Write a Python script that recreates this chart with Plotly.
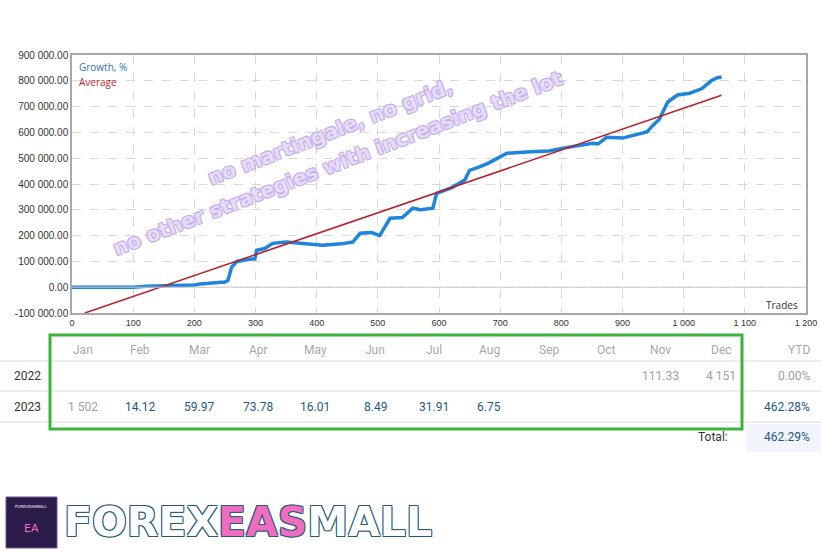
import plotly.graph_objects as go

# growth curve (trade number, growth %)
trades = [0, 100, 122, 150, 200, 209, 250, 255, 261, 270, 280, 290, 299, 302, 315, 328, 350, 380,
          410, 440, 459, 471, 490, 503, 520, 540, 557, 570, 590, 596, 610, 620, 642, 650, 665, 680,
          700, 711, 750, 780, 803, 830, 851, 860, 874, 900, 920, 940, 950, 960, 974, 990, 1010, 1030, 1045, 1055, 1062]
growth = [0, 0, 4000, 5000, 9000, 12000, 20000, 27000, 78000, 100000, 105000, 108000, 110000, 143000, 150000, 170000, 175000, 170000,
          163000, 168000, 175000, 209000, 212000, 200000, 267000, 270000, 306000, 300000, 306000, 364000, 375000, 385000, 415000, 453000, 465000, 480000,
          505000, 519000, 525000, 528000, 539000, 548000, 558000, 555000, 581000, 578000, 590000, 602000, 628000, 650000, 718000, 745000, 752000, 770000, 800000, 812000, 815000]
avg_x = [21, 1062]
avg_y = [-100000, 744000]

y_ticks = [-100000, 0, 100000, 200000, 300000, 400000, 500000, 600000, 700000, 800000, 900000]
y_labels = ["-100 000.00", "0.00", "100 000.00", "200 000.00", "300 000.00", "400 000.00",
            "500 000.00", "600 000.00", "700 000.00", "800 000.00", "900 000.00"]
x_ticks = [0, 100, 200, 300, 400, 500, 600, 700, 800, 900, 1000, 1100, 1200]
x_labels = ["0", "100", "200", "300", "400", "500", "600", "700", "800", "900", "1 000", "1 100", "1 200"]

months = ["Jan", "Feb", "Mar", "Apr", "May", "Jun", "Jul", "Aug", "Sep", "Oct", "Nov", "Dec"]
years = ["2022", "2023"]
vals_2022 = ["", "", "", "", "", "", "", "", "", "", "111.33", "4 151"]
vals_2023 = ["1 502", "14.12", "59.97", "73.78", "16.01", "8.49", "31.91", "6.75", "", "", "", ""]
ytd = ["0.00%", "462.28%"]
total = "462.29%"

W, H = 821, 552
L, R, T, B = 72, 806, 55, 313


def px(x):
    return (x - L) / (R - L)


def py(y):
    return (B - y) / (B - T)


fig = go.Figure()
fig.add_trace(go.Scatter(x=trades, y=growth, mode="lines",
                         line=dict(color="#1e84dc", width=3.5), hoverinfo="skip"))
fig.add_trace(go.Scatter(x=avg_x, y=avg_y, mode="lines",
                         line=dict(color="#b8202a", width=1.5), hoverinfo="skip"))

ann = []
shapes = []
ann.append(dict(x=px(77), y=py(67), text="Growth, %", font=dict(color="#2e75b8", size=10)))
ann.append(dict(x=px(77), y=py(82), text="Average", font=dict(color="#c0282d", size=10)))
ann.append(dict(x=px(800), y=py(305), text="Trades", font=dict(color="#333", size=10), xanchor="right"))

# watermark
wm = dict(size=20, color="#e6dcf8", family="DejaVu Sans", weight="bold",
          shadow="1px 1px 0 #c4aef0, -1px -1px 0 #c4aef0, 1px -1px 0 #c4aef0, -1px 1px 0 #c4aef0")
ann.append(dict(x=px(330), y=py(132), text="no martingale, no grid,", font=wm, textangle=-21, xanchor="center"))
ann.append(dict(x=px(338), y=py(163), text="no other strategies with increasing the lot", font=wm, textangle=-21, xanchor="center"))

# table
tf = "Roboto"
col_x = [83, 140, 199, 258, 315, 375, 434, 489, 549, 606, 660, 721]
for cx, m in zip(col_x, months):
    ann.append(dict(x=px(cx), y=py(350), text=m, xanchor="center", font=dict(family=tf, size=12, color="#a8a8a8")))
ann.append(dict(x=px(812), y=py(350), text="YTD", xanchor="right", font=dict(family=tf, size=12, color="#a8a8a8")))
for cx, v in zip(col_x, vals_2022):
    ann.append(dict(x=px(cx), y=py(376), text=v, xanchor="center", font=dict(family=tf, size=12, color="#a0a0a0")))
for cx, v in zip(col_x, vals_2023):
    c = "#a0a0a0" if v == "1 502" else "#1d5a86"
    ann.append(dict(x=px(cx), y=py(407), text=v, xanchor="center", font=dict(family=tf, size=12, color=c)))
for yy, yr in zip([376, 407], years):
    ann.append(dict(x=px(12), y=py(yy), text=yr, xanchor="left", font=dict(family=tf, size=12, color="#333")))
ann.append(dict(x=px(812), y=py(376), text=ytd[0], xanchor="right", font=dict(family=tf, size=12, color="#a0a0a0")))
ann.append(dict(x=px(812), y=py(407), text=ytd[1], xanchor="right", font=dict(family=tf, size=12, color="#1d5a86")))
ann.append(dict(x=px(730), y=py(437), text="Total:", xanchor="right", font=dict(family=tf, size=12, color="#333")))
ann.append(dict(x=px(812), y=py(437), text=total, xanchor="right", font=dict(family=tf, size=12, color="#1d5a86")))

shapes.append(dict(type="rect", xref="paper", yref="paper", x0=px(746), x1=px(821), y0=py(424), y1=py(452),
                   fillcolor="#f2f5fb", line=dict(width=0), layer="below"))
for ly in [361, 391, 422]:
    shapes.append(dict(type="line", xref="paper", yref="paper", x0=px(0), x1=px(821), y0=py(ly), y1=py(ly),
                       line=dict(color="#dcdcdc", width=1)))
shapes.append(dict(type="rect", xref="paper", yref="paper", x0=px(50), x1=px(742), y0=py(335), y1=py(429),
                   line=dict(color="#3cb43c", width=3)))

# logo
shapes.append(dict(type="rect", xref="paper", yref="paper", x0=px(6), x1=px(57), y0=py(497), y1=py(548),
                   fillcolor="#2b1b4a", line=dict(color="#6a5a8a", width=1)))
ann.append(dict(x=px(31.5), y=py(528), text="EA", xanchor="center", font=dict(family="DejaVu Sans", size=11, color="#f06cc0")))
ann.append(dict(x=px(31.5), y=py(506), text="FOREXEASMALL", xanchor="center", font=dict(family="DejaVu Sans", size=4, color="#fff")))
outline = "1px 1px 0 #245a78, -1px -1px 0 #245a78, 1px -1px 0 #245a78, -1px 1px 0 #245a78"
ann.append(dict(x=px(62), y=py(522), xanchor="left",
                text="FOREX<span style='color:#f06cc0'>EAS</span>MALL",
                font=dict(family="DejaVu Sans", weight="bold", size=41, color="#ffffff", shadow=outline)))

for a in ann:
    a.update(xref="paper", yref="paper", showarrow=False, yanchor="middle")
    a.setdefault("xanchor", "left")

axis_common = dict(showgrid=True, gridcolor="#d8d8d8", griddash="dash", gridwidth=1,
                   showline=True, linecolor="#a8a8a8", linewidth=1.5, mirror=True, automargin=False,
                   ticks="", tickfont=dict(size=10, color="#333", family="Liberation Sans"), zeroline=False)
fig.update_layout(
    width=W, height=H, margin=dict(l=L, r=W - R, t=T, b=H - B, autoexpand=False),
    paper_bgcolor="white", plot_bgcolor="white", showlegend=False,
    xaxis=dict(range=[0, 1200], tickvals=x_ticks, ticktext=x_labels, **axis_common),
    yaxis=dict(range=[-100000, 900000], tickvals=y_ticks, ticktext=y_labels, **axis_common),
    annotations=ann, shapes=shapes,
)
fig.update_xaxes(tickfont=dict(size=9))
fig.add_hline(y=0, line=dict(color="#c8c8c8", width=1))

fig.write_html("out.html", config={"displayModeBar": False},
               post_script="document.body.style.margin='0';")
